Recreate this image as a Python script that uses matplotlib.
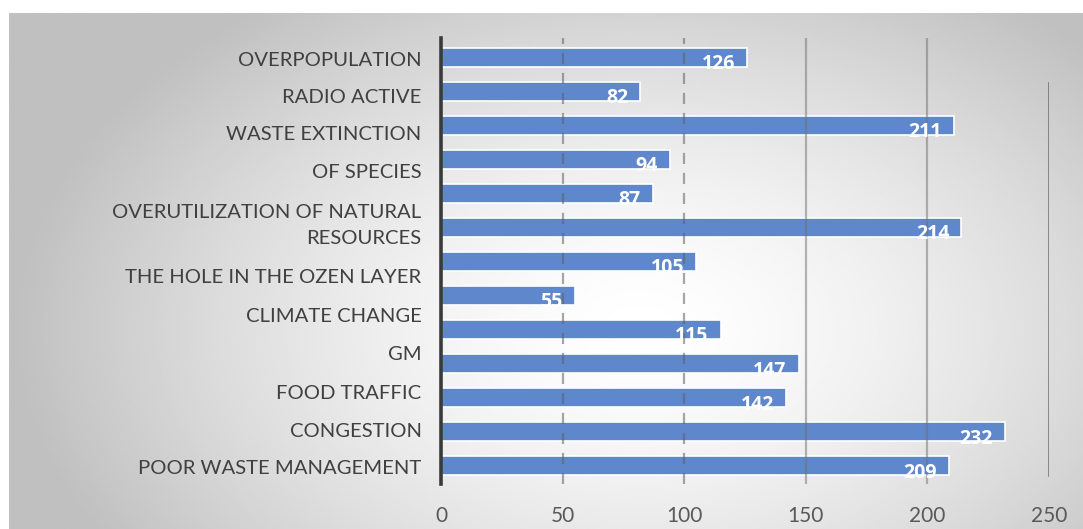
import numpy as np
import matplotlib
matplotlib.use("Agg")
import matplotlib.pyplot as plt

# bar values, top to bottom
values = [126, 82, 211, 94, 87, 214, 105, 55, 115, 147, 142, 232, 209]

# category texts printed down the left side
labels = ["OVERPOPULATION", "RADIO ACTIVE", "WASTE EXTINCTION", "OF SPECIES",
          "OVERUTILIZATION OF NATURAL\nRESOURCES", "THE HOLE IN THE OZEN LAYER",
          "CLIMATE CHANGE", "GM", "FOOD TRAFFIC", "CONGESTION",
          "POOR WASTE MANAGEMENT"]
# rows (in bar units) where each label sits
label_rows = [0.1, 1.18, 2.28, 3.38, 4.95, 6.48, 7.6, 8.74, 9.86, 10.98, 12.08]

xticks = [0, 50, 100, 150, 200, 250]

plt.rcParams["font.family"] = ["Lato", "DejaVu Sans"]

W, H = 1083, 529
fig = plt.figure(figsize=(W / 100, H / 100), dpi=100)

# grey panel with a soft radial highlight
bg = fig.add_axes([9 / W, 0, 1 - 9 / W, 1 - 13 / H], zorder=-5)
gx, gy = np.meshgrid(np.linspace(9, W, 400), np.linspace(13, H, 200))
d = np.sqrt(((gx - 640) / 630) ** 2 + ((gy - 330) / 410) ** 2)
shade = 1 - 0.25 * np.clip(d, 0, 1) ** 1.5
bg.imshow(shade, cmap="gray", vmin=0, vmax=1, aspect="auto",
          extent=[0, 1, 0, 1], interpolation="bilinear")
bg.axis("off")

ax = fig.add_axes([441 / W, 1 - 484 / H, (1049 - 441) / W, (484 - 38) / H])
ax.patch.set_alpha(0)

y = np.arange(len(values))
bars = ax.barh(y, values, height=0.56, color="#5f87cc",
               edgecolor="white", linewidth=1.2, zorder=2)

ax.set_xlim(0, 250)
ax.set_ylim(12.53, -0.56)

# vertical guides
for x in xticks[1:]:
    if x <= 100:
        ax.axvline(x, color="#606060", lw=1.6, alpha=0.55,
                   ls=(0, (5, 4)), zorder=3)
    elif x < 250:
        ax.axvline(x, color="#707070", lw=1.6, alpha=0.5, zorder=3)
    else:
        ax.axvline(x, ymin=0.02, ymax=0.9, color="#555555", lw=1.8,
                   alpha=0.8, zorder=3)

# value labels, clipped to their bar
for b, v in zip(bars, values):
    t = ax.text(v - 5, b.get_y() + b.get_height() / 2 + 0.2, str(v),
                ha="right", va="center", color="white", fontsize=14,
                fontweight="bold", family=["Open Sans", "DejaVu Sans"],
                zorder=4)
    t.set_clip_path(b)

for lab, r in zip(labels, label_rows):
    ax.text(-8, r, lab, ha="right", va="center", fontsize=14.6,
            color="#404040", linespacing=1.62,
            transform=ax.transData, clip_on=False)

ax.set_yticks([])
ax.set_xticks(xticks)
ax.tick_params(axis="x", length=0, pad=16, labelsize=15, labelcolor="#595959")
for s in ["top", "right", "bottom"]:
    ax.spines[s].set_visible(False)
ax.spines["left"].set_color("#3a3a3a")
ax.spines["left"].set_linewidth(2.6)
ax.spines["left"].set_zorder(5)

fig.savefig("out.png", dpi=100)
